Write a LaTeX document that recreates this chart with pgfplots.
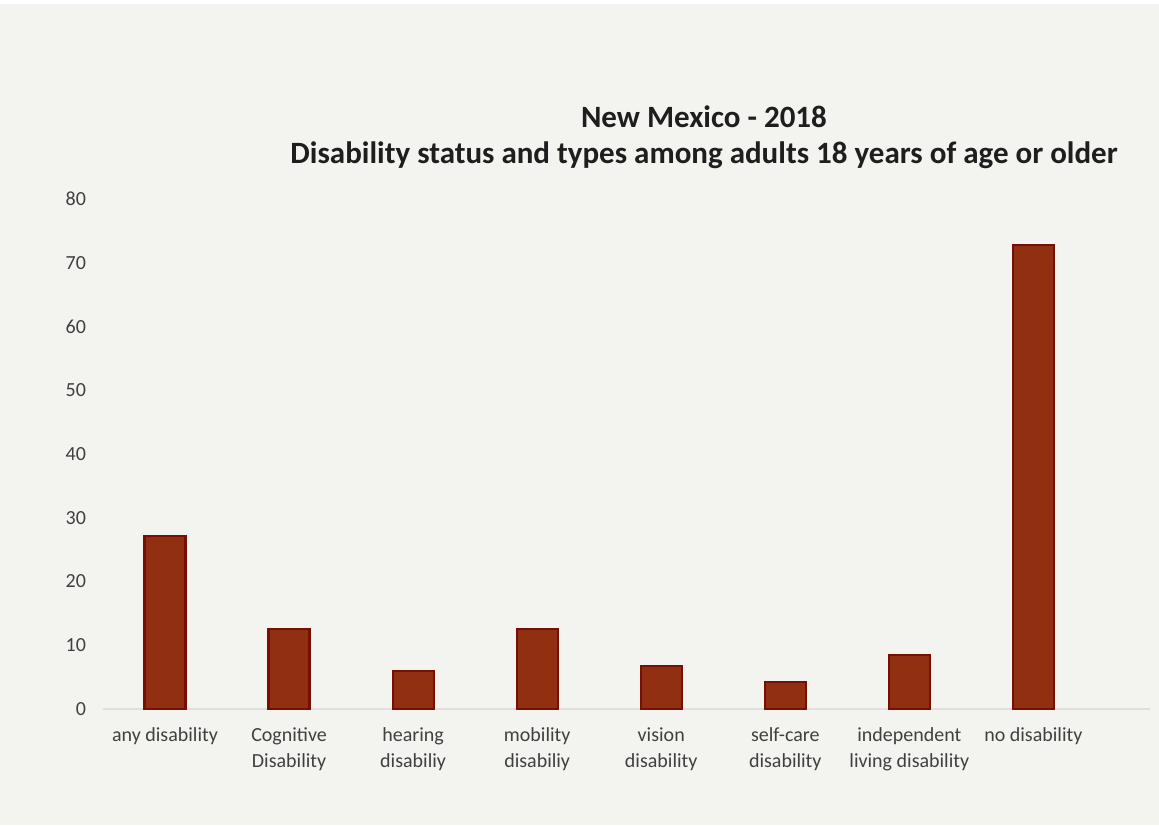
\documentclass[border=0pt]{standalone}
\usepackage{pgfplots}
\pgfplotsset{compat=1.18}
\usepackage{fontspec}
\setmainfont{Carlito}
\definecolor{bg}{RGB}{243,243,240}
\definecolor{barfill}{RGB}{145,48,16}
\definecolor{baredge}{RGB}{120,15,6}
\definecolor{txt}{RGB}{64,64,64}
\definecolor{ttl}{RGB}{30,30,30}
\begin{document}
\begin{tikzpicture}
\fill[bg] (0pt,0pt) rectangle (579.5pt,412.5pt);
\fill[white] (0pt,410.5pt) rectangle (579.5pt,412.5pt);
\node[font=\bfseries\fontsize{15.5}{18}\selectfont, text=ttl] at (352pt,354pt) {New Mexico - 2018};
\node[font=\bfseries\fontsize{15.5}{18}\selectfont, text=ttl] at (352pt,335pt) {Disability status and types among adults 18 years of age or older};
\begin{axis}[
  at={(51.5pt,58pt)}, anchor=south west,
  scale only axis, width=523.5pt, height=255pt,
  xmin=-0.5, xmax=7.94, ymin=0, ymax=80,
  ytick={0,10,...,80},
  xtick={0,...,7},
  xticklabels={any disability, Cognitive\\Disability, hearing\\disabiliy, mobility\\disabiliy, vision\\disability, self-care\\disability, independent\\living disability, no disability},
  major tick length=0pt,
  axis line style={draw=none},
  /pgf/number format/assume math mode=true,
  tick label style={font=\fontsize{10}{13}\selectfont, text=txt},
  xticklabel style={align=center, yshift=-6pt},
  yticklabel style={xshift=-5pt},
  ybar, bar width=20.5pt,
  clip=false,
]
\draw[gray!25, line width=0.8pt] (axis cs:-0.5,0) -- (axis cs:7.94,0);
\addplot[fill=barfill, draw=baredge, line width=1.1pt] coordinates {
(0,27.1) (1,12.5) (2,6.0) (3,12.5) (4,6.7) (5,4.2) (6,8.5) (7,72.8)};
\end{axis}
\end{tikzpicture}
\end{document}
